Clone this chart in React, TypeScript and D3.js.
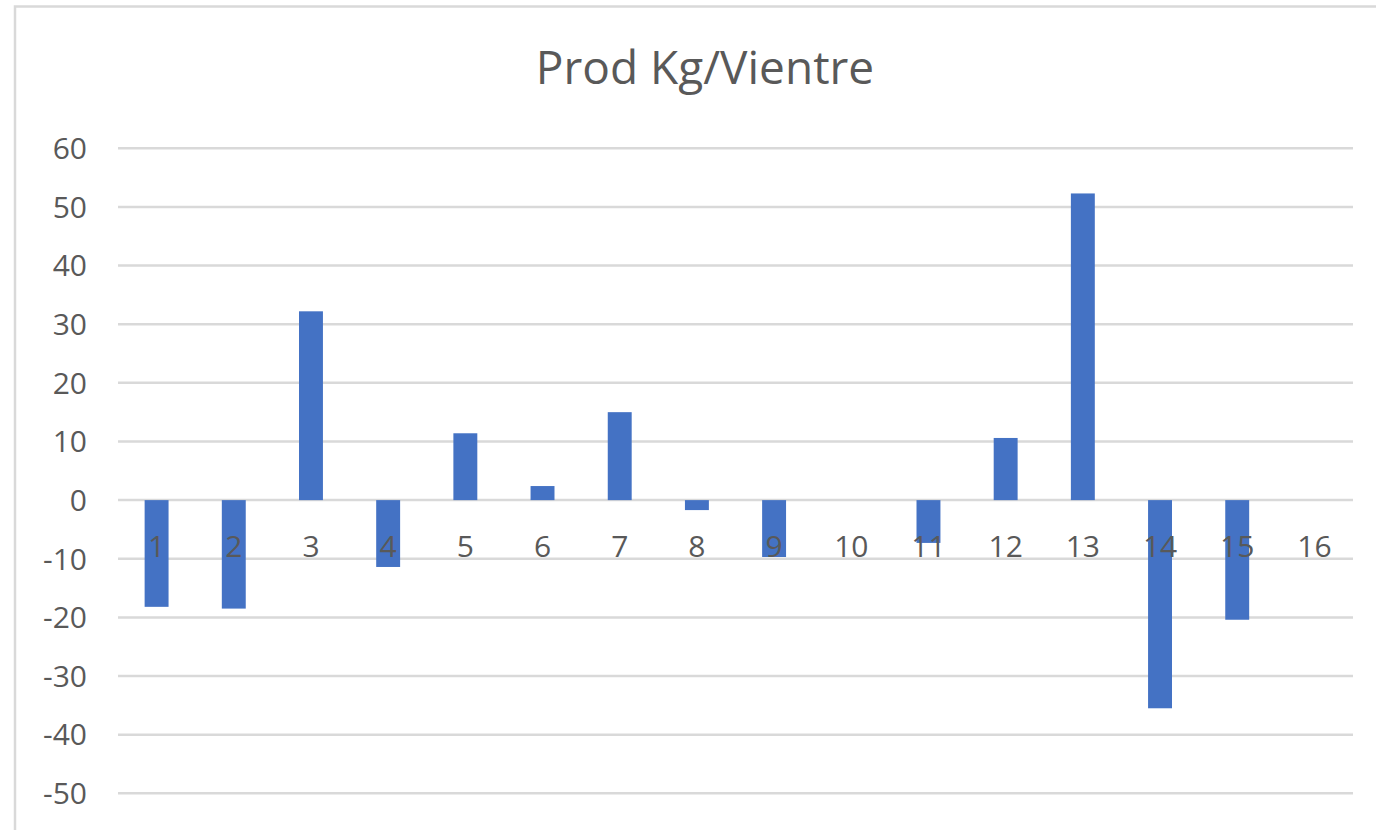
import React from "react";
import { scaleBand, scaleLinear } from "d3";

// Prod Kg/Vientre - one value per lot
const categories = ["1", "2", "3", "4", "5", "6", "7", "8", "9", "10", "11", "12", "13", "14", "15", "16"];
const values = [-18.2, -18.5, 32.2, -11.4, 11.4, 2.4, 15.0, -1.7, -9.7, 0, -7.3, 10.6, 52.3, -35.5, -20.4, 0];
const yTicks = [60, 50, 40, 30, 20, 10, 0, -10, -20, -30, -40, -50];
const title = "Prod Kg/Vientre";

const W = 1376;
const H = 830;
const plot = { left: 118, right: 1353, top: 148.3, bottom: 793.3 };
const font = "'Open Sans', 'Noto Sans', sans-serif";
const textColor = "#595959";
const gridColor = "#d9d9d9";
const barColor = "#4472c4";

export default function App() {
  const x = scaleBand()
    .domain(categories)
    .range([plot.left, plot.right])
    .paddingInner(0.69)
    .paddingOuter(0.345);
  const y = scaleLinear().domain([-50, 60]).range([plot.bottom, plot.top]);

  return (
    <svg
      width={W}
      height={H}
      style={{ position: "absolute", left: 0, top: 0, background: "#fff" }}
    >
      <rect x={0} y={0} width={W} height={H} fill="#fff" />
      {/* chart frame, cut off at right and bottom */}
      <rect x={15} y={6.5} width={W + 50} height={H + 50} fill="none" stroke={gridColor} strokeWidth={2.5} />

      <text
        x={705}
        y={84}
        textAnchor="middle"
        fontFamily={font}
        fontSize={46}
        fill={textColor}
      >
        {title}
      </text>

      {/* gridlines */}
      {yTicks.map((t) => (
        <line
          key={"g" + t}
          x1={plot.left}
          x2={plot.right}
          y1={y(t)}
          y2={y(t)}
          stroke={gridColor}
          strokeWidth={2.5}
        />
      ))}

      {/* y labels */}
      {yTicks.map((t) => (
        <text
          key={"t" + t}
          x={87}
          y={y(t)}
          dy="0.36em"
          textAnchor="end"
          fontFamily={font}
          fontSize={30}
          fill={textColor}
        >
          {t}
        </text>
      ))}

      {/* bars */}
      {values.map((v, i) => (
        <rect
          key={"b" + i}
          x={x(categories[i])}
          y={y(Math.max(0, v))}
          width={x.bandwidth()}
          height={Math.abs(y(v) - y(0))}
          fill={barColor}
        />
      ))}

      {/* category labels, drawn over the bars */}
      {categories.map((c) => (
        <text
          key={"c" + c}
          x={(x(c) ?? 0) + x.bandwidth() / 2}
          y={557}
          textAnchor="middle"
          fontFamily={font}
          fontSize={30}
          fill={textColor}
        >
          {c}
        </text>
      ))}
    </svg>
  );
}
